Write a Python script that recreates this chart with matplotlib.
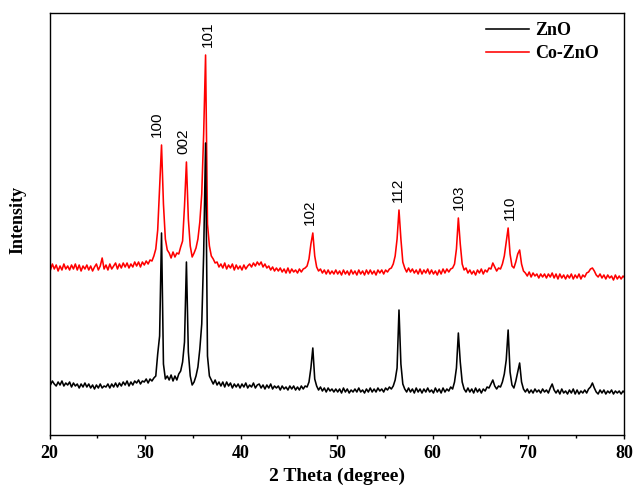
"""XRD 图谱：ZnO 与 Co-ZnO 两条衍射曲线，上下错开叠放。"""

import numpy as np
import matplotlib
matplotlib.use("Agg")
import matplotlib.pyplot as plt

# 2θ 采样点：19.9 ~ 80.1，步长 0.2
TWO_THETA = np.round(19.9 + 0.2 * np.arange(302), 1)

# 强度（任意单位，已含两条曲线的竖直错位）
ZNO = [
    52, 49, 53, 50, 48, 52, 49, 53, 48, 51,
    49, 52, 47, 51, 48, 50, 46, 50, 47, 51,
    47, 50, 46, 49, 45, 49, 46, 50, 46, 48,
    47, 50, 46, 50, 47, 51, 47, 51, 48, 52,
    49, 53, 48, 52, 49, 53, 51, 54, 50, 53,
    52, 55, 51, 55, 53, 56, 58, 80, 98, 201,
    70, 55, 58, 54, 59, 53, 58, 54, 60, 63,
    72, 92, 172, 82, 58, 49, 52, 58, 67, 85,
    110, 180, 291, 78, 58, 54, 50, 54, 49, 52,
    48, 52, 47, 52, 48, 51, 46, 50, 47, 50,
    46, 50, 47, 51, 46, 49, 47, 51, 46, 49,
    50, 46, 49, 45, 49, 46, 50, 45, 48, 46,
    48, 44, 48, 45, 47, 44, 48, 45, 48, 44,
    47, 44, 48, 45, 48, 47, 52, 66, 86, 55,
    48, 44, 47, 43, 46, 42, 46, 43, 45, 42,
    45, 42, 45, 41, 46, 42, 45, 41, 44, 42,
    45, 42, 46, 42, 44, 41, 45, 42, 46, 42,
    45, 42, 46, 43, 45, 42, 46, 44, 47, 45,
    48, 54, 66, 124, 70, 50, 45, 42, 46, 42,
    45, 41, 46, 42, 45, 41, 45, 42, 46, 42,
    44, 41, 46, 42, 45, 41, 46, 42, 45, 43,
    47, 45, 52, 66, 101, 72, 52, 45, 42, 46,
    42, 45, 41, 46, 42, 45, 41, 45, 43, 47,
    46, 50, 54, 48, 45, 48, 47, 52, 60, 74,
    104, 62, 49, 46, 53, 62, 71, 52, 45, 42,
    45, 41, 44, 41, 45, 42, 44, 41, 45, 42,
    44, 41, 46, 50, 44, 41, 44, 40, 45, 41,
    43, 40, 44, 41, 45, 40, 44, 40, 43, 41,
    44, 41, 45, 47, 51, 46, 42, 40, 44, 41,
    44, 40, 43, 41, 44, 40, 43, 41, 43, 40,
    43, 41,
]

CO_ZNO = [
    168, 164, 170, 165, 169, 163, 168, 164, 170, 165,
    168, 164, 169, 165, 170, 164, 169, 163, 168, 165,
    169, 164, 168, 163, 167, 170, 164, 168, 176, 165,
    169, 164, 170, 165, 168, 171, 165, 170, 166, 171,
    167, 171, 166, 170, 167, 172, 168, 172, 167, 172,
    169, 173, 170, 174, 173, 178, 185, 204, 247, 289,
    230, 195, 184, 181, 176, 182, 177, 181, 180, 187,
    193, 228, 272, 215, 188, 177, 181, 186, 195, 212,
    240, 300, 379, 210, 188, 178, 175, 171, 172, 167,
    170, 166, 171, 165, 169, 166, 170, 164, 169, 165,
    168, 164, 169, 165, 168, 170, 167, 171, 168, 172,
    169, 172, 167, 170, 166, 168, 164, 167, 163, 166,
    163, 166, 162, 165, 161, 166, 161, 165, 162, 164,
    161, 165, 162, 165, 166, 168, 175, 190, 201, 178,
    167, 163, 165, 161, 164, 160, 164, 160, 163, 160,
    164, 160, 163, 159, 164, 160, 163, 159, 164, 160,
    163, 159, 164, 160, 163, 159, 164, 160, 164, 160,
    163, 159, 164, 161, 164, 160, 164, 162, 165, 166,
    170, 178, 195, 224, 195, 172, 166, 162, 166, 162,
    165, 161, 164, 160, 165, 160, 164, 161, 165, 160,
    164, 160, 163, 159, 164, 160, 165, 161, 165, 162,
    165, 166, 170, 185, 216, 190, 170, 164, 166, 161,
    164, 160, 163, 159, 164, 161, 165, 160, 164, 162,
    166, 165, 171, 167, 163, 166, 165, 170, 178, 192,
    206, 180, 168, 166, 172, 180, 184, 170, 163, 161,
    158, 162, 157, 161, 158, 160, 156, 160, 157, 160,
    156, 160, 157, 161, 156, 160, 155, 160, 156, 159,
    155, 159, 156, 160, 155, 159, 156, 160, 155, 159,
    157, 161, 162, 165, 166, 163, 159, 157, 160, 156,
    159, 155, 159, 156, 158, 154, 159, 155, 158, 155,
    158, 156,
]

# 晶面指数标注：文字、所在峰的 2θ
PEAK_HKL = ["100", "002", "101", "102", "112", "103", "110"]
PEAK_2THETA = [31.7, 34.3, 36.3, 47.5, 56.5, 62.7, 67.9]
# 标注文字相对峰位的水平偏移（版面微调）
LABEL_DX = [-0.45, -0.35, 0.25, -0.3, -0.1, 0.1, 0.2]

SERIF = ["Liberation Serif", "DejaVu Serif"]
SANS = ["Liberation Sans", "DejaVu Sans"]

fig = plt.figure(figsize=(6.34, 4.88), dpi=100)
ax = fig.add_axes([49.5 / 634, 53 / 488, 574.5 / 634, 422 / 488])

x = TWO_THETA
ln_co, = ax.plot(x, CO_ZNO, color="#ff0000", lw=1.15, zorder=2)
ln_zn, = ax.plot(x, ZNO, color="black", lw=1.15, zorder=3)

# 峰位标注放在 Co-ZnO 峰顶上方
co = np.array(CO_ZNO)
for hkl, pos, dx in zip(PEAK_HKL, PEAK_2THETA, LABEL_DX):
    i = int(np.argmin(np.abs(x - pos)))
    ax.text(pos + dx, co[i] + 8, hkl, rotation=90, ha="center", va="bottom",
            fontsize=11, family=SANS)

ax.set_xlim(20, 80)
ax.set_ylim(-1, 421)
ax.set_xticks(np.arange(20, 81, 10))
ax.set_xticks(np.arange(25, 80, 10), minor=True)
ax.set_yticks([])
ax.tick_params(axis="x", which="major", direction="out", length=3, width=1,
               pad=4)
ax.tick_params(axis="x", which="minor", direction="out", length=2, width=1)
for lab in ax.get_xticklabels():
    lab.set_family(SERIF)
    lab.set_fontweight("bold")
    lab.set_fontsize(13)
for sp in ax.spines.values():
    sp.set_linewidth(1.0)

ax.set_xlabel("2 Theta (degree)", family=SERIF, fontweight="bold",
              fontsize=14, labelpad=4)
fig.text(18 / 634, 1 - 220 / 488, "Intensity", rotation=90, ha="center",
         va="center", family=SERIF, fontweight="bold", fontsize=13)

ax.legend([ln_zn, ln_co], ["ZnO", "Co-ZnO"], loc="upper left",
          bbox_to_anchor=(486 / 634, 1 - 22 / 488),
          bbox_transform=fig.transFigure, frameon=False, borderpad=0,
          borderaxespad=0, handlelength=2.4, handletextpad=0.3,
          labelspacing=0.35, prop={"family": SERIF, "weight": "bold",
                                   "size": 13})

fig.savefig("out.png", dpi=100)
